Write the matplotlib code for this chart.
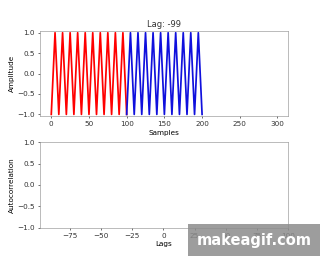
import matplotlib
matplotlib.use("Agg")
import matplotlib.pyplot as plt
from matplotlib.patches import Rectangle

# signal turning points (lag -99)
red_x = [0, 5, 10, 15, 20, 25, 30, 35, 40, 45, 50, 55, 60, 65, 70, 75, 80, 85, 90, 95, 100]
red_y = [-1, 1, -1, 1, -1, 1, -1, 1, -1, 1, -1, 1, -1, 1, -1, 1, -1, 1, -1, 1, -1]
blue_x = [100, 105, 110, 115, 120, 125, 130, 135, 140, 145, 150, 155, 160, 165, 170, 175, 180, 185, 190, 195, 200]
blue_y = [-1, 1, -1, 1, -1, 1, -1, 1, -1, 1, -1, 1, -1, 1, -1, 1, -1, 1, -1, 1, -1]
lag = -99
top_ticks = [0, 50, 100, 150, 200, 250, 300]
lag_ticks = [-75, -50, -25, 0, 25, 50, 75, 100]
y_ticks = [-1.0, -0.5, 0.0, 0.5, 1.0]

plt.rcParams['font.size'] = 10.5
plt.rcParams['text.color'] = '#333333'
plt.rcParams['xtick.labelcolor'] = '#333333'
plt.rcParams['ytick.labelcolor'] = '#333333'


def main():
    fig, (ax1, ax2) = plt.subplots(2, 1, figsize=(6.4, 5.12), dpi=50)
    plt.subplots_adjust(left=0.125, right=0.9, top=0.88, bottom=0.11, hspace=0.3)

    # top: the two signals
    ax1.plot(red_x, red_y, color='red', lw=2.5)
    ax1.plot(blue_x, blue_y, color='#1010dd', lw=2.5)
    ax1.set_xlim(-14.95, 313.95)
    ax1.set_ylim(-1.05, 1.05)
    ax1.set_xticks(top_ticks)
    ax1.set_yticks(y_ticks)
    ax1.set_xlabel("Samples")
    ax1.set_ylabel("Amplitude")
    ax1.set_title(f"Lag: {lag}", fontsize=12)

    # bottom: autocorrelation (nothing drawn yet at this frame)
    ax2.set_xlim(-99, 100)
    ax2.set_ylim(-1, 1)
    ax2.set_xticks(lag_ticks)
    ax2.set_yticks(y_ticks)
    ax2.set_xlabel("Lags")
    ax2.set_ylabel("Autocorrelation")

    for ax in (ax1, ax2):
        for s in ax.spines.values():
            s.set_color('#888888')

    # gif watermark
    fig.patches.append(Rectangle((188 / 320, 0), 132 / 320, 32 / 256,
                                 transform=fig.transFigure, facecolor='#8c8c8c',
                                 alpha=0.85, edgecolor='none', zorder=10))
    fig.text(254 / 320, 15 / 256, "makeagif.com", color='white', fontsize=21,
             fontweight='bold', family='DejaVu Sans', ha='center', va='center', zorder=11)

    fig.savefig("out.png", dpi=50)


if __name__ == "__main__":
    main()
